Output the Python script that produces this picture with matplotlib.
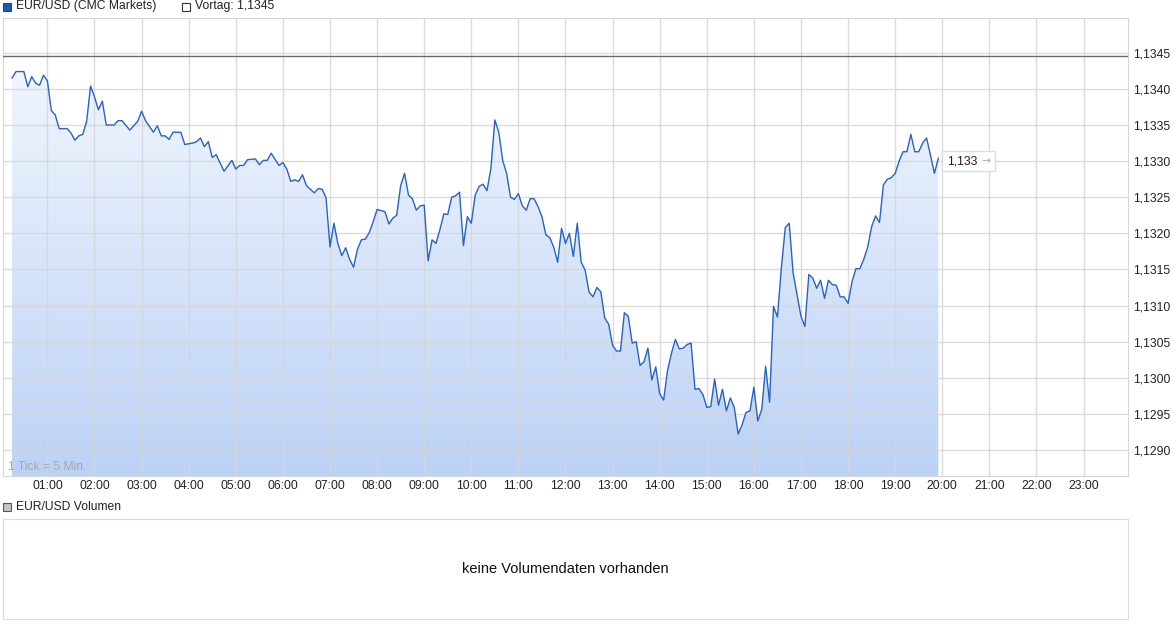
import numpy as np
import matplotlib.pyplot as plt
from matplotlib.colors import LinearSegmentedColormap
from matplotlib.patches import Polygon, Rectangle
from matplotlib.transforms import IdentityTransform

plt.rcParams['font.family'] = ['Liberation Sans', 'DejaVu Sans']

# Kursdaten EUR/USD (5-Minuten-Ticks)
times = ['00:15', '00:20', '00:30', '00:35', '00:40', '00:45', '00:50', '00:55', '01:00', '01:05',
         '01:10', '01:15', '01:25', '01:30', '01:35', '01:40', '01:45', '01:50', '01:55', '02:00',
         '02:05', '02:10', '02:15', '02:25', '02:30', '02:35', '02:45', '02:55', '03:00', '03:05',
         '03:15', '03:20', '03:25', '03:30', '03:35', '03:40', '03:50', '03:55', '04:05', '04:10',
         '04:15', '04:20', '04:25', '04:30', '04:35', '04:45', '04:55', '05:00', '05:05', '05:10',
         '05:15', '05:25', '05:30', '05:35', '05:40', '05:45', '05:55', '06:00', '06:05', '06:10',
         '06:15', '06:20', '06:25', '06:30', '06:40', '06:45', '06:50', '06:55', '07:00', '07:05',
         '07:10', '07:15', '07:20', '07:25', '07:30', '07:35', '07:40', '07:45', '07:50', '07:55',
         '08:00', '08:10', '08:15', '08:20', '08:25', '08:30', '08:35', '08:40', '08:45', '08:50',
         '08:55', '09:00', '09:05', '09:10', '09:15', '09:20', '09:25', '09:30', '09:35', '09:40',
         '09:45', '09:50', '09:55', '10:00', '10:05', '10:10', '10:15', '10:20', '10:25', '10:30',
         '10:35', '10:40', '10:45', '10:50', '10:55', '11:00', '11:05', '11:10', '11:15', '11:20',
         '11:25', '11:30', '11:35', '11:40', '11:45', '11:50', '11:55', '12:00', '12:05', '12:10',
         '12:15', '12:20', '12:25', '12:30', '12:35', '12:40', '12:45', '12:50', '12:55', '13:00',
         '13:05', '13:10', '13:15', '13:20', '13:25', '13:30', '13:35', '13:40', '13:45', '13:50',
         '13:55', '14:00', '14:05', '14:10', '14:15', '14:20', '14:25', '14:30', '14:35', '14:40',
         '14:45', '14:50', '14:55', '15:00', '15:05', '15:10', '15:15', '15:20', '15:25', '15:30',
         '15:35', '15:40', '15:45', '15:50', '15:55', '16:00', '16:05', '16:10', '16:15', '16:20',
         '16:25', '16:30', '16:35', '16:40', '16:45', '16:50', '16:55', '17:00', '17:05', '17:10',
         '17:15', '17:20', '17:25', '17:30', '17:35', '17:40', '17:45', '17:50', '17:55', '18:00',
         '18:05', '18:10', '18:15', '18:20', '18:25', '18:30', '18:35', '18:40', '18:45', '18:50',
         '18:55', '19:00', '19:05', '19:10', '19:15', '19:20', '19:25', '19:30', '19:35', '19:40',
         '19:45', '19:50', '19:55']
prices = [1.13415, 1.13424, 1.13424, 1.13403, 1.13417, 1.13408, 1.13405, 1.13419, 1.13411, 1.13370,
          1.13364, 1.13345, 1.13345, 1.13339, 1.13329, 1.13335, 1.13337, 1.13355, 1.13404, 1.13389,
          1.13371, 1.13383, 1.13350, 1.13350, 1.13356, 1.13356, 1.13343, 1.13355, 1.13369, 1.13356,
          1.13340, 1.13349, 1.13335, 1.13335, 1.13330, 1.13340, 1.13340, 1.13323, 1.13325, 1.13327,
          1.13332, 1.13320, 1.13327, 1.13305, 1.13309, 1.13286, 1.13301, 1.13289, 1.13294, 1.13294,
          1.13302, 1.13303, 1.13295, 1.13301, 1.13301, 1.13311, 1.13294, 1.13298, 1.13289, 1.13272,
          1.13274, 1.13272, 1.13281, 1.13266, 1.13256, 1.13262, 1.13261, 1.13249, 1.13181, 1.13214,
          1.13186, 1.13169, 1.13180, 1.13164, 1.13153, 1.13178, 1.13191, 1.13192, 1.13201, 1.13216,
          1.13233, 1.13230, 1.13213, 1.13221, 1.13225, 1.13266, 1.13283, 1.13253, 1.13248, 1.13232,
          1.13238, 1.13239, 1.13162, 1.13191, 1.13186, 1.13205, 1.13227, 1.13226, 1.13250, 1.13252,
          1.13257, 1.13183, 1.13223, 1.13214, 1.13253, 1.13265, 1.13268, 1.13259, 1.13290, 1.13357,
          1.13340, 1.13301, 1.13283, 1.13250, 1.13247, 1.13255, 1.13238, 1.13232, 1.13248, 1.13248,
          1.13237, 1.13223, 1.13198, 1.13194, 1.13181, 1.13160, 1.13207, 1.13186, 1.13200, 1.13168,
          1.13214, 1.13160, 1.13149, 1.13119, 1.13112, 1.13125, 1.13119, 1.13083, 1.13074, 1.13045,
          1.13037, 1.13037, 1.13090, 1.13085, 1.13048, 1.13050, 1.13017, 1.13022, 1.13041, 1.12997,
          1.13015, 1.12978, 1.12969, 1.13010, 1.13034, 1.13053, 1.13040, 1.13041, 1.13046, 1.13048,
          1.12984, 1.12985, 1.12977, 1.12959, 1.12960, 1.12998, 1.12962, 1.12984, 1.12954, 1.12972,
          1.12959, 1.12922, 1.12935, 1.12952, 1.12954, 1.12987, 1.12940, 1.12956, 1.13016, 1.12966,
          1.13099, 1.13084, 1.13152, 1.13208, 1.13214, 1.13145, 1.13115, 1.13085, 1.13071, 1.13143,
          1.13138, 1.13124, 1.13135, 1.13110, 1.13135, 1.13129, 1.13128, 1.13112, 1.13112, 1.13103,
          1.13133, 1.13151, 1.13151, 1.13164, 1.13181, 1.13209, 1.13224, 1.13215, 1.13267, 1.13275,
          1.13277, 1.13283, 1.13300, 1.13313, 1.13313, 1.13337, 1.13313, 1.13313, 1.13325, 1.13332,
          1.13308, 1.13283, 1.13304]

vortag = 1.13445
last_label = '1,133'
last_level = 1.1330
hour_labels = ['%02d:00' % h for h in range(1, 24)]
price_ticks = [1.1290, 1.1295, 1.1300, 1.1305, 1.1310, 1.1315, 1.1320, 1.1325, 1.1330, 1.1335, 1.1340, 1.1345]

minutes = np.array([int(s[:2]) * 60 + int(s[3:]) for s in times])
prices = np.array(prices)

W, H = 1175, 630
fig = plt.figure(figsize=(W / 100, H / 100), dpi=100)


def px(x0, y0, x1, y1):
    return [x0 / W, 1 - y1 / H, (x1 - x0) / W, (y1 - y0) / H]


grid_c = '#d6d6d6'
xmin, xmax = 3.44, 1436.6
ymin, ymax = 1.128639, 1.134982

ax = fig.add_axes(px(3, 18, 1128, 476))

# Verlaufsfuellung unter der Kurve
cmap = LinearSegmentedColormap.from_list('fill', ['#bcd2f5', '#f7faff'])
grad = np.linspace(0, 1, 256).reshape(-1, 1)
im = ax.imshow(grad, extent=[xmin, xmax, ymin, ymax], origin='lower', aspect='auto',
               cmap=cmap, zorder=1, interpolation='bilinear')
verts = [(minutes[0], ymin)] + list(zip(minutes, prices)) + [(minutes[-1], ymin)]
poly = Polygon(verts, closed=True, facecolor='none', edgecolor='none', transform=ax.transData)
ax.add_patch(poly)
im.set_clip_path(poly)

ax.plot(minutes, prices, color='#2763c4', lw=1.0, zorder=4)
ax.axhline(vortag, color='#6a6a6a', lw=1.0, zorder=3)

ax.set_xlim(xmin, xmax)
ax.set_ylim(ymin, ymax)
ax.set_xticks(np.arange(60, 1440, 60))
ax.set_xticklabels(hour_labels)
ax.set_yticks(price_ticks)
ax.set_yticklabels([('%.4f' % p).replace('.', ',') for p in price_ticks])
ax.yaxis.tick_right()
ax.tick_params(axis='both', length=0, labelsize=8.7, colors='#222222')
ax.tick_params(axis='x', pad=3)
ax.tick_params(axis='y', pad=4)
ax.set_axisbelow('line')
ax.grid(True, color=grid_c, lw=1.0, alpha=0.85)
for sp in ax.spines.values():
    sp.set_color(grid_c)

ax.text(5 / 1125, 9 / 458, '1 Tick = 5 Min.', transform=ax.transAxes, fontsize=8.7,
        color='#a8a8a8', va='center', ha='left', zorder=5)

# Kurslabel am Ende der Linie
end_x, end_y = ax.transData.transform((minutes[-1], last_level))
ax.add_artist(Rectangle((end_x + 4, end_y - 10), 53, 20, transform=IdentityTransform(),
                        fc='white', ec='#dddddd', lw=1, zorder=6, clip_on=False))
ax.annotate(last_label, xy=(minutes[-1], last_level), xytext=(9, 0),
            textcoords='offset pixels', ha='left', va='center', fontsize=8.7, color='#2a1a1a',
            zorder=7, annotation_clip=False)
ax.annotate('\u2192', xy=(minutes[-1], last_level), xytext=(43, 0),
            textcoords='offset pixels', ha='left', va='center', fontsize=8, color='#b5b5b5',
            fontweight='bold', family='DejaVu Sans', zorder=7, annotation_clip=False)

# Kopfzeile
fig.add_artist(Rectangle((3 / W, 1 - 11 / H), 8 / W, 8 / H, transform=fig.transFigure,
                         fc='#1f56b8', ec='#1a4896', lw=0.8))
fig.text(16 / W, 1 - 6.5 / H, 'EUR/USD (CMC Markets)', fontsize=8.7, va='center', ha='left', color='#222222')
fig.add_artist(Rectangle((182 / W, 1 - 11 / H), 8 / W, 8 / H, transform=fig.transFigure,
                         fc='white', ec='#333333', lw=0.8))
fig.text(195 / W, 1 - 6.5 / H, 'Vortag: 1,1345', fontsize=8.7, va='center', ha='left', color='#222222')

# Volumen-Panel
fig.add_artist(Rectangle((3 / W, 1 - 511 / H), 8 / W, 8 / H, transform=fig.transFigure,
                         fc='#c4c4c4', ec='#555555', lw=0.8))
fig.text(16 / W, 1 - 506.5 / H, 'EUR/USD Volumen', fontsize=8.7, va='center', ha='left', color='#222222')

vax = fig.add_axes(px(3, 519, 1128, 619))
vax.set_xticks([])
vax.set_yticks([])
for sp in vax.spines.values():
    sp.set_color('#dcdcdc')
vax.text(0.5, 0.5, 'keine Volumendaten vorhanden', transform=vax.transAxes, ha='center',
         va='center', fontsize=10.5, color='#111111')

fig.savefig('out.png', dpi=100)
